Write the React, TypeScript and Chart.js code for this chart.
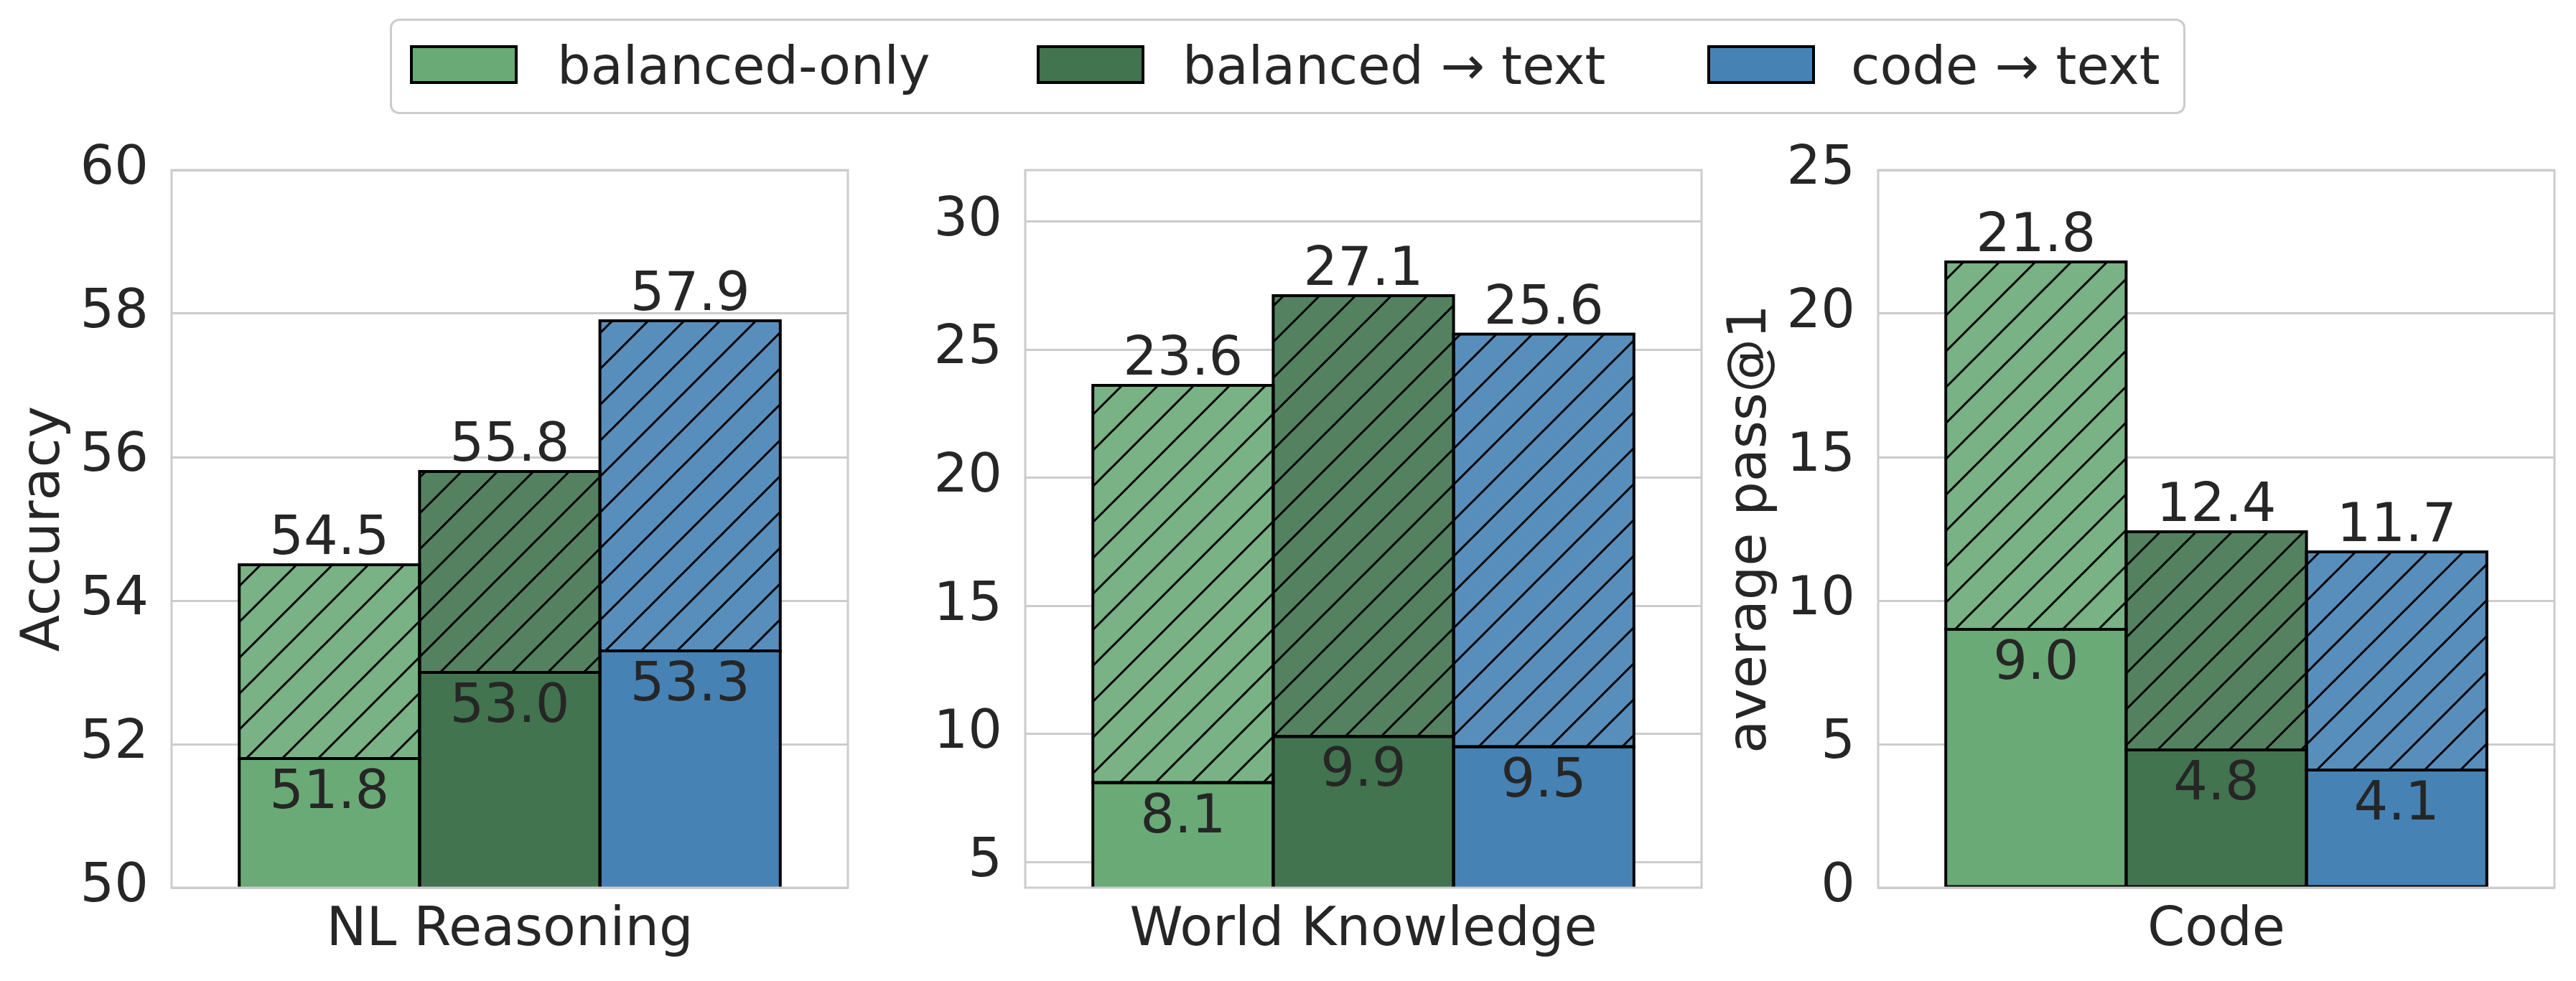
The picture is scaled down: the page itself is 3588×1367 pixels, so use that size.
import React, { useEffect, useRef } from 'react';
import { Chart, registerables } from 'chart.js';

Chart.register(...registerables);

// ---- data ----
const CATEGORIES = ['NL Reasoning', 'World Knowledge', 'Code'];
const SERIES = ['balanced-only', 'balanced → text', 'code → text'];
// solid (lower) values, per category
const BALANCED_ONLY_BASE = [51.8, 8.1, 9.0];
const BALANCED_TEXT_BASE = [53.0, 9.9, 4.8];
const CODE_TEXT_BASE = [53.3, 9.5, 4.1];
// hatched (upper) values, per category
const BALANCED_ONLY_TOP = [54.5, 23.6, 21.8];
const BALANCED_TEXT_TOP = [55.8, 27.1, 12.4];
const CODE_TEXT_TOP = [57.9, 25.6, 11.7];
const Y_TITLES = ['Accuracy', '', 'average pass@1'];
const Y_MIN = [50, 4, 0];
const Y_MAX = [60, 32, 25];
const NL_TICKS = [50, 52, 54, 56, 58, 60];
const WK_TICKS = [5, 10, 15, 20, 25, 30];
const CODE_TICKS = [0, 5, 10, 15, 20, 25];

const BASES = [BALANCED_ONLY_BASE, BALANCED_TEXT_BASE, CODE_TEXT_BASE];
const TOPS = [BALANCED_ONLY_TOP, BALANCED_TEXT_TOP, CODE_TEXT_TOP];
const Y_TICKS = [NL_TICKS, WK_TICKS, CODE_TICKS];

// ---- styles / layout ----
const W = 3588;
const H = 1367;
const FONT = 'DejaVu Sans';
const TEXT = '#262626';
const GRID = '#cccccc';
const SOLID = ['#6aaa77', '#41744f', '#4682b4'];
const HATCH_FILL = ['#79b285', '#548261', '#588ebc'];
const PLOT_LEFT = [239, 1428, 2616];
const PLOT_W = 942;
const PLOT_TOP = 237;
const PLOT_BOTTOM = 1237;
const Y_AXIS_W = 230;
const X_AXIS_H = 130;
const EDGE_W = 4;

function makeHatch(fill: string): CanvasPattern | string {
  const s = 50;
  const c = document.createElement('canvas');
  c.width = s;
  c.height = s;
  const g = c.getContext('2d');
  if (!g) return fill;
  g.fillStyle = fill;
  g.fillRect(0, 0, s, s);
  g.strokeStyle = '#000000';
  g.lineWidth = 3;
  g.beginPath();
  g.moveTo(0, s);
  g.lineTo(s, 0);
  g.moveTo(-s / 2, s / 2);
  g.lineTo(s / 2, -s / 2);
  g.moveTo(s / 2, s * 1.5);
  g.lineTo(s * 1.5, s / 2);
  g.stroke();
  return g.createPattern(c, 'repeat') || fill;
}

function overlayPlugin(p: number) {
  return {
    id: 'overlay' + p,
    afterDatasetsDraw(chart: any) {
      const { ctx, chartArea: a } = chart;
      ctx.save();
      // bar edges, centred on the bar outlines (like matplotlib)
      ctx.beginPath();
      ctx.rect(a.left, a.top - 10, a.right - a.left, a.bottom - a.top + 10);
      ctx.clip();
      ctx.strokeStyle = '#000000';
      ctx.lineWidth = EDGE_W;
      ctx.lineJoin = 'miter';
      chart.data.datasets.forEach((_: any, di: number) => {
        const el = chart.getDatasetMeta(di).data[0];
        if (!el) return;
        const { x, y, base, width } = el.getProps(['x', 'y', 'base', 'width'], true);
        const top = Math.min(y, base);
        const h = Math.abs(base - y);
        ctx.strokeRect(x - width / 2, top, width, h);
      });
      ctx.restore();

      ctx.save();
      ctx.strokeStyle = GRID;
      ctx.lineWidth = 3;
      ctx.strokeRect(a.left, a.top, a.right - a.left, a.bottom - a.top);
      ctx.font = `75px "${FONT}"`;
      ctx.fillStyle = TEXT;
      ctx.textAlign = 'center';
      ctx.textBaseline = 'alphabetic';
      for (let s = 0; s < SERIES.length; s++) {
        const baseEl = chart.getDatasetMeta(2 * s).data[0];
        const topEl = chart.getDatasetMeta(2 * s + 1).data[0];
        if (topEl) ctx.fillText(TOPS[s][p].toFixed(1), topEl.x, topEl.y - 15);
        if (baseEl) ctx.fillText(BASES[s][p].toFixed(1), baseEl.x, baseEl.y + 69);
      }
      ctx.restore();
    },
  };
}

function buildChart(canvas: HTMLCanvasElement, p: number) {
  const datasets: any[] = [];
  for (let s = 0; s < SERIES.length; s++) {
    const common = {
      stack: 'stack' + s,
      borderWidth: 0,
      borderSkipped: false,
      categoryPercentage: 0.8,
      barPercentage: 1.0,
      clip: 0,
    };
    datasets.push({
      ...common,
      label: SERIES[s] + ' base',
      data: [BASES[s][p]],
      backgroundColor: SOLID[s],
    });
    datasets.push({
      ...common,
      label: SERIES[s],
      data: [TOPS[s][p] - BASES[s][p]],
      backgroundColor: makeHatch(HATCH_FILL[s]),
    });
  }
  return new Chart(canvas, {
    type: 'bar',
    data: { labels: [CATEGORIES[p]], datasets },
    options: {
      responsive: false,
      animation: false,
      devicePixelRatio: 1,
      events: [],
      layout: {
        padding: {
          left: PLOT_LEFT[p] - Y_AXIS_W,
          right: W - (PLOT_LEFT[p] + PLOT_W),
          top: PLOT_TOP,
          bottom: H - PLOT_BOTTOM - X_AXIS_H,
        },
      },
      plugins: {
        legend: { display: false },
        tooltip: { enabled: false },
        title: { display: false },
      },
      scales: {
        x: {
          stacked: true,
          grid: { display: false, drawTicks: false },
          border: { display: false },
          ticks: { font: { family: FONT, size: 75 }, color: TEXT, padding: 16 },
          afterFit: (scale: any) => {
            scale.height = X_AXIS_H;
          },
        },
        y: {
          stacked: true,
          min: Y_MIN[p],
          max: Y_MAX[p],
          grid: { color: GRID, lineWidth: 3, drawTicks: false },
          border: { display: false },
          ticks: { font: { family: FONT, size: 75 }, color: TEXT, padding: 32, autoSkip: false },
          afterBuildTicks: (scale: any) => {
            scale.ticks = Y_TICKS[p].map((v) => ({ value: v }));
          },
          afterFit: (scale: any) => {
            scale.width = Y_AXIS_W;
          },
          title: {
            display: Y_TITLES[p] !== '',
            text: Y_TITLES[p],
            color: TEXT,
            font: { family: FONT, size: 75 },
            padding: { top: 9, bottom: 0 },
          },
        },
      },
    } as any,
    plugins: [overlayPlugin(p)],
  });
}

const LEGEND_PATCH_LEFT = [571, 1444, 2378];
const LEGEND_TEXT_LEFT = [776, 1647, 2578];

export default function App() {
  const r0 = useRef<HTMLCanvasElement>(null);
  const r1 = useRef<HTMLCanvasElement>(null);
  const r2 = useRef<HTMLCanvasElement>(null);
  const refs = [r0, r1, r2];

  useEffect(() => {
    document.body.style.margin = '0';
    const charts = refs.map((r, p) => (r.current ? buildChart(r.current, p) : null));
    return () => {
      charts.forEach((c) => c && c.destroy());
    };
  }, []);

  return (
    <div style={{ position: 'relative', width: W, height: H, background: '#ffffff', overflow: 'hidden' }}>
      {refs.map((r, i) => (
        <canvas
          key={i}
          ref={r}
          width={W}
          height={H}
          style={{ position: 'absolute', left: 0, top: 0, width: W, height: H }}
        />
      ))}
      <div
        style={{
          position: 'absolute',
          left: 543,
          top: 26,
          width: 3044 - 543,
          height: 159 - 26,
          border: `3px solid ${GRID}`,
          borderRadius: 13,
          boxSizing: 'border-box',
          background: '#ffffff',
        }}
      />
      {SERIES.map((name, i) => (
        <React.Fragment key={name}>
          <div
            style={{
              position: 'absolute',
              left: LEGEND_PATCH_LEFT[i],
              top: 63,
              width: 150,
              height: 54,
              border: '4px solid #000000',
              boxSizing: 'border-box',
              background: SOLID[i],
            }}
          />
          <div
            style={{
              position: 'absolute',
              left: LEGEND_TEXT_LEFT[i],
              top: 55,
              fontFamily: FONT,
              fontSize: 73.5,
              lineHeight: '73.5px',
              color: TEXT,
              whiteSpace: 'nowrap',
            }}
          >
            {name}
          </div>
        </React.Fragment>
      ))}
    </div>
  );
}
